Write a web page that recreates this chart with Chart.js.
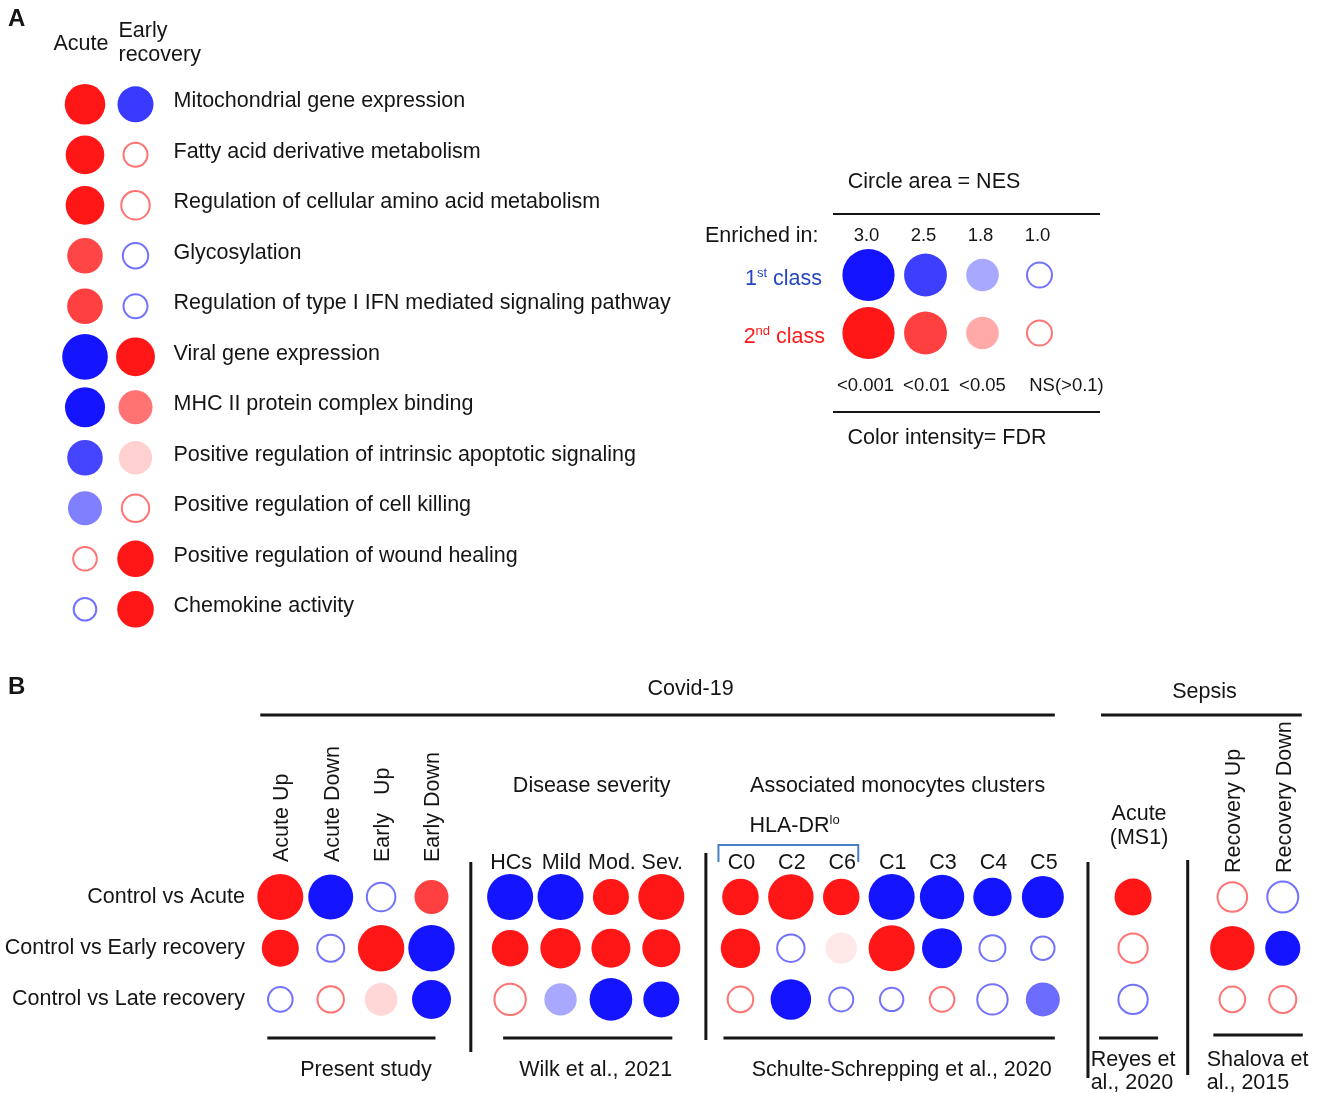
<!DOCTYPE html>
<html>
<head>
<meta charset="utf-8">
<script src="https://cdn.jsdelivr.net/npm/chart.js@4.4.1/dist/chart.umd.min.js"></script>
<style>
  html, body { margin: 0; padding: 0; background: #fff; }
  #figure { position: relative; width: 1325px; height: 1093px; overflow: hidden; }
  #figure canvas { position: absolute; }
</style>
</head>
<body>
<div id="figure">
  <canvas id="panelA" width="690" height="650" style="left:0;top:0"></canvas>
  <canvas id="key" width="430" height="310" style="left:690px;top:150px"></canvas>
  <canvas id="panelB" width="1325" height="433" style="left:0;top:660px"></canvas>
</div>
<script>
// ---------- Panel A: pathways, acute vs early recovery ----------
const pathways = [
    'Mitochondrial gene expression',
    'Fatty acid derivative metabolism',
    'Regulation of cellular amino acid metabolism',
    'Glycosylation',
    'Regulation of type I IFN mediated signaling pathway',
    'Viral gene expression',
    'MHC II protein complex binding',
    'Positive regulation of intrinsic apoptotic signaling',
    'Positive regulation of cell killing',
    'Positive regulation of wound healing',
    'Chemokine activity'
];
const nesAcute = [2.36, 2.24, 2.24, 2.03, 2.03, 2.66, 2.33, 2.03, 1.91, 0.77, 0.54];
const fdrAcute = [0.0005, 0.0005, 0.0005, 0.011, 0.01, 0.0005, 0.0005, 0.011, 0.027, 0.3, 0.3];
const classAcute = [2, 2, 2, 2, 2, 1, 1, 1, 1, 2, 1]; // 1 = 1st class (blue), 2 = 2nd class (red)
const nesEarly = [2.06, 0.84, 1.43, 1.06, 0.84, 2.25, 1.91, 1.86, 1.31, 2.10, 2.10];
const fdrEarly = [0.0078, 0.3, 0.3, 0.3, 0.3, 0.0005, 0.022, 0.075, 0.3, 0.0005, 0.0005];
const classEarly = [1, 2, 2, 1, 1, 2, 2, 2, 2, 2, 2];

// ---------- Key ----------
const keyNes = [3.0, 2.5, 1.8, 1.0];
const keyFdr = [0.001, 0.01, 0.05, 0.2];
const keyFdrLabels = ['<0.001', '<0.01', '<0.05', 'NS(>0.1)'];
const keyClasses = [['1', 'st', ' class'], ['2', 'nd', ' class']];

// ---------- Panel B: comparison with other datasets ----------
const comparisons = ['Control vs Acute', 'Control vs Early recovery', 'Control vs Late recovery'];
const columns = ['Acute Up', 'Acute Down', 'Early   Up', 'Early Down',
    'HCs', 'Mild', 'Mod.', 'Sev.',
    'C0', 'C2', 'C6', 'C1', 'C3', 'C4', 'C5',
    'Acute (MS1)',
    'Recovery Up', 'Recovery Down'];
const columnStudy = [0, 0, 0, 0, 1, 1, 1, 1, 2, 2, 2, 2, 2, 2, 2, 3, 4, 4];
const studies = [['Present study'], ['Wilk et al., 2021'], ['Schulte-Schrepping et al., 2020'],
    ['Reyes et', 'al., 2020'], ['Shalova et', 'al., 2015']];
const studyTitles = [null, ['Disease severity'], ['Associated monocytes clusters'], ['Acute', '(MS1)'], null];
const diseases = ['Covid-19', 'Sepsis'];
const diseaseStudies = [[0, 1, 2], [3, 4]];
const hlaLowColumns = ['C0', 'C2', 'C6'];

const nesVsAcute = [2.68, 2.62, 1.43, 1.91, 2.68, 2.68, 2.06, 2.68, 2.10, 2.65, 2.10, 2.68, 2.59, 2.22, 2.45, 2.13, 1.53, 1.66];
const fdrVsAcute = [0.0005, 0.0005, 0.4, 0.01, 0.0005, 0.0005, 0.0005, 0.0005, 0.0005, 0.0005, 0.0005, 0.0005, 0.0005, 0.0005, 0.0005, 0.0005, 0.3, 0.3];
const classVsAcute = [2, 1, 1, 2, 1, 1, 2, 2, 2, 2, 2, 1, 1, 1, 1, 2, 2, 1];
const nesVsEarly = [2.13, 1.26, 2.70, 2.70, 2.10, 2.35, 2.26, 2.20, 2.29, 1.31, 1.70, 2.68, 2.33, 1.14, 0.73, 1.51, 2.59, 1.99];
const fdrVsEarly = [0.0005, 0.3, 0.0005, 0.0005, 0.0005, 0.0005, 0.0005, 0.0005, 0.0005, 0.3, 0.096, 0.0005, 0.0005, 0.3, 0.3, 0.3, 0.0005, 0.0008];
const classVsEarly = [2, 1, 2, 1, 2, 2, 2, 2, 2, 1, 2, 2, 1, 1, 1, 2, 2, 1];
const nesVsLate = [0.94, 1.19, 1.80, 2.26, 1.70, 1.78, 2.49, 2.06, 1.08, 2.36, 0.84, 0.73, 0.94, 1.61, 1.91, 1.51, 1.08, 1.26];
const fdrVsLate = [0.3, 0.3, 0.08, 0.0005, 0.3, 0.05, 0.0005, 0.001, 0.3, 0.0005, 0.3, 0.3, 0.3, 0.3, 0.02, 0.3, 0.3, 0.3];
const classVsLate = [1, 2, 2, 1, 2, 1, 1, 1, 2, 1, 1, 1, 2, 1, 1, 1, 2, 2];

// ---------- styling helpers ----------
const FONT = '"Liberation Sans", Arial, Helvetica, sans-serif';
const INK = '#151515';
const BLUE = [20, 20, 255];
const RED = [255, 22, 22];
const TEXT_SIZE = 21.5;
const font = (size, weight) => (weight ? weight + ' ' : '') + size + 'px ' + FONT;

// radius grows with NES, calibrated on the key circles
const radiusFor = nes => 10.8 + 1.7 * nes * nes;

// colour strength from FDR (log scale); above 0.1 the circle is left open
const fdrSteps = [[-3, 1], [-2, 0.82], [-1.301, 0.37], [-1, 0.08]];
function strength(fdr) {
    const lg = Math.log10(fdr);
    if (lg <= fdrSteps[0][0]) return 1;
    for (let i = 1; i < fdrSteps.length; i++) {
        const [x0, y0] = fdrSteps[i - 1];
        const [x1, y1] = fdrSteps[i];
        if (lg <= x1) return y0 + (y1 - y0) * (lg - x0) / (x1 - x0);
    }
    return 0.08;
}
const isNS = p => p.fdr > 0.1;
const baseOf = p => (p.cls === 1 ? BLUE : RED);
function fillColor(p) {
    if (!p) return '#fff';
    if (isNS(p)) return '#fff';
    const t = strength(p.fdr);
    const c = baseOf(p).map(v => Math.round(255 - (255 - v) * t));
    return `rgb(${c[0]},${c[1]},${c[2]})`;
}
function strokeColor(p) {
    if (!p) return 'transparent';
    const c = baseOf(p);
    return `rgba(${c[0]},${c[1]},${c[2]},0.6)`;
}

const point = (x, y, nes, fdr, cls) => ({ x, y, r: radiusFor(nes), nes, fdr, cls });

// linear range so that value 0 sits at originPx and one unit spans unitPx
const axisRange = (originPx, unitPx, lengthPx) => ({ min: -originPx / unitPx, max: (lengthPx - originPx) / unitPx });

function dotChart(id, points, xr, yr, drawText) {
    const canvas = document.getElementById(id);
    return new Chart(canvas, {
        type: 'bubble',
        data: {
            datasets: [{
                data: points,
                clip: false,
                backgroundColor: c => fillColor(c.raw),
                borderColor: c => strokeColor(c.raw),
                borderWidth: c => (c.raw && isNS(c.raw) ? 2 : 0),
                hoverRadius: 0
            }]
        },
        options: {
            responsive: false,
            animation: false,
            events: [],
            layout: { padding: 0, autoPadding: false },
            plugins: { legend: { display: false }, tooltip: { enabled: false } },
            scales: {
                x: { type: 'linear', display: false, bounds: 'data', min: xr.min, max: xr.max },
                y: { type: 'linear', display: false, bounds: 'data', reverse: true, min: yr.min, max: yr.max }
            }
        },
        plugins: [{ id: id + 'Text', afterDraw: chart => drawText(chart, chart.ctx) }]
    });
}

function text(ctx, str, x, y, opts = {}) {
    ctx.save();
    ctx.font = font(opts.size || TEXT_SIZE, opts.weight);
    ctx.fillStyle = opts.color || INK;
    ctx.textAlign = opts.align || 'left';
    ctx.textBaseline = 'middle';
    ctx.fillText(str, x, y);
    ctx.restore();
}

// base text + superscript + tail, right- or left-anchored
function supText(ctx, parts, x, y, align, color) {
    ctx.save();
    ctx.fillStyle = color || INK;
    ctx.textBaseline = 'middle';
    ctx.textAlign = 'left';
    const sizes = [TEXT_SIZE, 13, TEXT_SIZE];
    const widths = parts.map((p, i) => { ctx.font = font(sizes[i]); return ctx.measureText(p).width; });
    let cx = align === 'right' ? x - widths.reduce((a, b) => a + b, 0) : x;
    parts.forEach((p, i) => {
        ctx.font = font(sizes[i]);
        ctx.fillText(p, cx, i === 1 ? y - 6 : y);
        cx += widths[i];
    });
    ctx.restore();
}

function line(ctx, x0, y0, x1, y1, width, color) {
    ctx.save();
    ctx.strokeStyle = color || INK;
    ctx.lineWidth = width;
    ctx.beginPath();
    ctx.moveTo(x0, y0);
    ctx.lineTo(x1, y1);
    ctx.stroke();
    ctx.restore();
}

// ---------- Panel A chart ----------
const pointsA = [];
pathways.forEach((name, i) => {
    pointsA.push(point(0, i, nesAcute[i], fdrAcute[i], classAcute[i]));
    pointsA.push(point(1, i, nesEarly[i], fdrEarly[i], classEarly[i]));
});

dotChart('panelA', pointsA, axisRange(85, 50.5, 690), axisRange(104.3, 50.5, 650), (chart, ctx) => {
    const x = chart.scales.x, y = chart.scales.y;
    text(ctx, 'A', 8, 19, { size: 24, weight: 'bold' });
    text(ctx, 'Acute', x.getPixelForValue(0) - 4, 44, { align: 'center' });
    text(ctx, 'Early', x.getPixelForValue(1) - 17, 31);
    text(ctx, 'recovery', x.getPixelForValue(1) - 17, 55);
    const labelX = x.getPixelForValue(1) + 38;
    pathways.forEach((name, i) => text(ctx, name, labelX, y.getPixelForValue(i) - 3));
});

// ---------- Key chart ----------
const pointsKey = [];
keyClasses.forEach((c, row) => {
    keyNes.forEach((nes, i) => pointsKey.push(point(i, row, nes, keyFdr[i], row + 1)));
});

dotChart('key', pointsKey, axisRange(178.5, 57, 430), axisRange(125, 58, 310), (chart, ctx) => {
    const x = chart.scales.x, y = chart.scales.y;
    text(ctx, 'Circle area = NES', 244, 32, { align: 'center' });
    line(ctx, 143, 64, 410, 64, 2);
    text(ctx, 'Enriched in:', 15, 86);
    keyNes.forEach((v, i) => text(ctx, v.toFixed(1), x.getPixelForValue(i) - 2, 86, { size: 18.5, align: 'center' }));
    supText(ctx, keyClasses[0], 132, y.getPixelForValue(0) + 4, 'right', '#2446c0');
    supText(ctx, keyClasses[1], 135, y.getPixelForValue(1) + 4, 'right', '#ff1a1a');
    const fdrShift = [-3, 1, 0, 27];
    keyFdrLabels.forEach((s, i) => text(ctx, s, x.getPixelForValue(i) + fdrShift[i], 236, { size: 18.5, align: 'center' }));
    line(ctx, 143, 262, 410, 262, 2);
    text(ctx, 'Color intensity= FDR', 257, 288, { align: 'center' });
});

// ---------- Panel B chart ----------
// extra room between study blocks, in column units
const studyOffset = [0, 0.56, 1.13, 1.92, 2.89];
const colX = i => i + studyOffset[columnStudy[i]];
const rowsB = [
    [nesVsAcute, fdrVsAcute, classVsAcute],
    [nesVsEarly, fdrVsEarly, classVsEarly],
    [nesVsLate, fdrVsLate, classVsLate]
];
const pointsB = [];
rowsB.forEach(([nes, fdr, cls], r) => {
    columns.forEach((c, i) => pointsB.push(point(colX(i), r, nes[i], fdr[i], cls[i])));
});

const rotatedStudies = [0, 4];
const rotatedBase = [202, null, null, null, 213];
const titleY = [null, 126, 126, 154, null];
const separatorSpan = [[202, 392], [193, 380], [202, 418], [200, 415]];
const underlinePad = [[13, 4, 378], [7, 11, 378], [17, 12, 378], [34, 25, 378], [19, 20, 375]];
const diseasePad = [[20, 12], [32, 19]];
const diseaseTitle = [[33, 29], [3, 32]];

dotChart('panelB', pointsB, axisRange(280.3, 50.4, 1325), axisRange(237, 51.2, 433), (chart, ctx) => {
    const x = chart.scales.x, y = chart.scales.y;
    const px = i => x.getPixelForValue(colX(i));
    const studyCols = s => columns.map((c, i) => i).filter(i => columnStudy[i] === s);

    text(ctx, 'B', 8, 27, { size: 24, weight: 'bold' });

    // disease headers
    diseases.forEach((d, k) => {
        const cols = diseaseStudies[k].flatMap(studyCols);
        const x0 = px(cols[0]) - diseasePad[k][0], x1 = px(cols[cols.length - 1]) + diseasePad[k][1];
        text(ctx, d, (x0 + x1) / 2 + diseaseTitle[k][0], diseaseTitle[k][1], { align: 'center' });
        line(ctx, x0, 55, x1, 55, 3);
    });

    // row labels
    comparisons.forEach((c, r) => text(ctx, c, 245, y.getPixelForValue(r), { align: 'right' }));

    // column labels
    columns.forEach((c, i) => {
        const s = columnStudy[i];
        if (rotatedStudies.includes(s)) {
            ctx.save();
            ctx.translate(px(i) + 2, rotatedBase[s]);
            ctx.rotate(-Math.PI / 2);
            text(ctx, c, 0, 0);
            ctx.restore();
        } else if (!studyTitles[s] || studyTitles[s].length === 1) {
            text(ctx, c, px(i) + 1, 203, { align: 'center' });
        }
    });

    studies.forEach((lines, s) => {
        const cols = studyCols(s);
        const first = px(cols[0]), last = px(cols[cols.length - 1]);
        const mid = (first + last) / 2;
        if (studyTitles[s]) {
            studyTitles[s].forEach((t, k) => text(ctx, t, mid + 6, titleY[s] + k * 24, { align: 'center' }));
        }
        // underline and reference
        const [padL, padR, ly] = underlinePad[s];
        line(ctx, first - padL, ly, last + padR, ly, 3);
        if (lines.length === 1) {
            text(ctx, lines[0], mid + 10, 410, { align: 'center' });
        } else {
            ctx.save();
            ctx.font = font(TEXT_SIZE);
            const left = mid - ctx.measureText(lines[0]).width / 2;
            ctx.restore();
            lines.forEach((t, k) => text(ctx, t, left, 400 + k * 23));
        }
        if (s > 0) {
            const prev = studyCols(s - 1);
            const sx = (px(prev[prev.length - 1]) + first) / 2 + (s === 2 || s === 4 ? 5 : 0);
            line(ctx, sx, separatorSpan[s - 1][0], sx, separatorSpan[s - 1][1], 3);
        }
    });

    // HLA-DR low bracket
    const hi = hlaLowColumns.map(c => columns.indexOf(c));
    const bx0 = px(hi[0]) - 22, bx1 = px(hi[hi.length - 1]) + 17;
    ctx.save();
    ctx.strokeStyle = '#4a7ec8';
    ctx.lineWidth = 2;
    ctx.beginPath();
    ctx.moveTo(bx0, 202);
    ctx.lineTo(bx0, 185);
    ctx.lineTo(bx1, 185);
    ctx.lineTo(bx1, 202);
    ctx.stroke();
    ctx.restore();
    supText(ctx, ['HLA-DR', 'lo', ''], bx0 + 31, 166, 'left');
});
</script>
</body>
</html>
